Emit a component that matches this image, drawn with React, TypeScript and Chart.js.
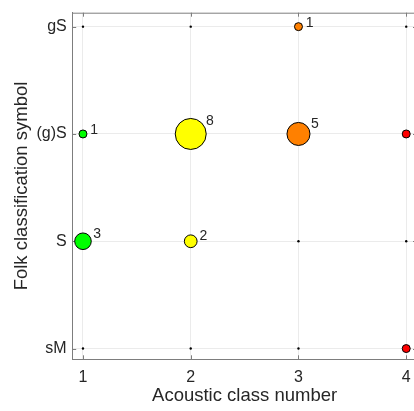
import React, { useEffect, useRef } from 'react';
import { Chart, registerables } from 'chart.js';

Chart.register(...registerables);

// ---- data ----
const xClasses = [1, 2, 3, 4];
const folkLabels = ['sM', 'S', '(g)S', 'gS'];
// counts per acoustic class, ordered as folkLabels
const class1Counts = [0, 3, 1, 0];
const class2Counts = [0, 2, 8, 0];
const class3Counts = [0, 0, 5, 1];
const class4Counts = [1, 0, 1, 0];
const classColors = ['#00ff00', '#ffff00', '#ff8000', '#ff0000'];

const FONT = 'Arial, "Liberation Sans", Helvetica, sans-serif';
const TEXT = '#262626';
const AXIS = '#7d7d7d';
const GRID = '#ebebeb';

const radiusFor = (n: number) => 4.5 * Math.pow(n, 0.61);

const framePlugin = {
  id: 'frameTicks',
  beforeDatasetsDraw(chart: any) {
    const { ctx, chartArea: a, scales } = chart;
    ctx.save();
    ctx.strokeStyle = AXIS;
    ctx.lineWidth = 1;
    ctx.beginPath();
    ctx.moveTo(a.left, a.top + 0.5);
    ctx.lineTo(a.right, a.top + 0.5);
    ctx.moveTo(a.right - 0.5, a.top);
    ctx.lineTo(a.right - 0.5, a.bottom);
    const tl = 4;
    xClasses.forEach((v) => {
      const px = Math.round(scales.x.getPixelForValue(v)) + 0.5;
      ctx.moveTo(px, a.bottom);
      ctx.lineTo(px, a.bottom - tl);
      ctx.moveTo(px, a.top);
      ctx.lineTo(px, a.top + tl);
    });
    folkLabels.forEach((_, i) => {
      const py = Math.round(scales.y.getPixelForValue(i)) + 0.5;
      ctx.moveTo(a.left, py);
      ctx.lineTo(a.left + tl, py);
      ctx.moveTo(a.right, py);
      ctx.lineTo(a.right - tl, py);
    });
    ctx.stroke();
    ctx.restore();
  },
  afterDatasetsDraw(chart: any) {
    const { ctx } = chart;
    ctx.save();
    ctx.fillStyle = TEXT;
    ctx.font = `14px ${FONT}`;
    ctx.textAlign = 'left';
    ctx.textBaseline = 'middle';
    chart.data.datasets.forEach((ds: any, di: number) => {
      if (!ds.showCounts) return;
      const meta = chart.getDatasetMeta(di);
      meta.data.forEach((el: any, i: number) => {
        const n = ds.data[i].n;
        const r = radiusFor(n);
        ctx.fillText(String(n), el.x + r * 0.7 + 4, el.y - r * 0.8);
      });
    });
    ctx.restore();
  },
};

export default function App() {
  const ref = useRef<HTMLCanvasElement>(null);

  useEffect(() => {
    document.body.style.margin = '0';
    const allCounts = [class1Counts, class2Counts, class3Counts, class4Counts];
    const zeros: any[] = [];
    allCounts.forEach((counts, i) =>
      counts.forEach((n, j) => {
        if (n === 0) zeros.push({ x: xClasses[i], y: j, n });
      })
    );
    const datasets: any[] = [
      {
        label: 'none',
        data: zeros,
        pointRadius: 1.2,
        pointBackgroundColor: '#000',
        pointBorderColor: '#000',
        pointBorderWidth: 0,
        clip: false,
      },
    ];
    allCounts.forEach((counts, i) => {
      datasets.push({
        label: `Class ${xClasses[i]}`,
        showCounts: true,
        data: counts
          .map((n, j) => ({ x: xClasses[i], y: j, n }))
          .filter((p) => p.n > 0),
        pointBackgroundColor: classColors[i],
        pointBorderColor: '#000',
        pointBorderWidth: 1,
        pointRadius: (c: any) => radiusFor(c.raw.n) - 0.5,
        clip: false,
      });
    });

    const chart = new Chart(ref.current!, {
      type: 'scatter',
      data: { datasets },
      options: {
        animation: false,
        responsive: false,
        devicePixelRatio: 1,
        layout: {
          autoPadding: false,
          padding: { top: 12.7, right: 13, bottom: 0, left: 0 },
        },
        plugins: { legend: { display: false }, tooltip: { enabled: false } },
        scales: {
          x: {
            type: 'linear',
            min: 0.9,
            max: 4.1,
            afterBuildTicks: (s: any) => {
              s.ticks = xClasses.map((v) => ({ value: v }));
            },
            afterFit: (s: any) => {
              s.height = 51.7;
              s.paddingLeft = 0;
              s.paddingRight = 0;
            },
            ticks: {
              color: TEXT,
              font: { family: FONT, size: 16 },
              padding: 8.5,
              maxRotation: 0,
            },
            grid: { color: GRID, drawTicks: false },
            border: { display: true, color: AXIS, width: 1 },
            title: {
              display: true,
              text: 'Acoustic class number',
              color: TEXT,
              font: { family: FONT, size: 18.5 },
              padding: { top: 0, bottom: 4 },
            },
          },
          y: {
            type: 'linear',
            min: -0.1,
            max: 3.13,
            afterBuildTicks: (s: any) => {
              s.ticks = folkLabels.map((_, i) => ({ value: i }));
            },
            afterFit: (s: any) => {
              s.width = 72.2;
              s.paddingTop = 0;
              s.paddingBottom = 0;
            },
            ticks: {
              color: TEXT,
              font: { family: FONT, size: 16 },
              padding: 5.5,
              callback: (v: any) => folkLabels[Number(v)] ?? '',
            },
            grid: { color: GRID, drawTicks: false },
            border: { display: true, color: AXIS, width: 1 },
            title: {
              display: true,
              text: 'Folk classification symbol',
              color: TEXT,
              font: { family: FONT, size: 18.5 },
              padding: { top: 11, bottom: 0 },
            },
          },
        },
      },
      plugins: [framePlugin],
    } as any);
    return () => chart.destroy();
  }, []);

  return (
    <div style={{ width: 414, height: 411, overflow: 'hidden', position: 'relative' }}>
      <canvas ref={ref} width={430} height={411} style={{ display: 'block' }} />
    </div>
  );
}
